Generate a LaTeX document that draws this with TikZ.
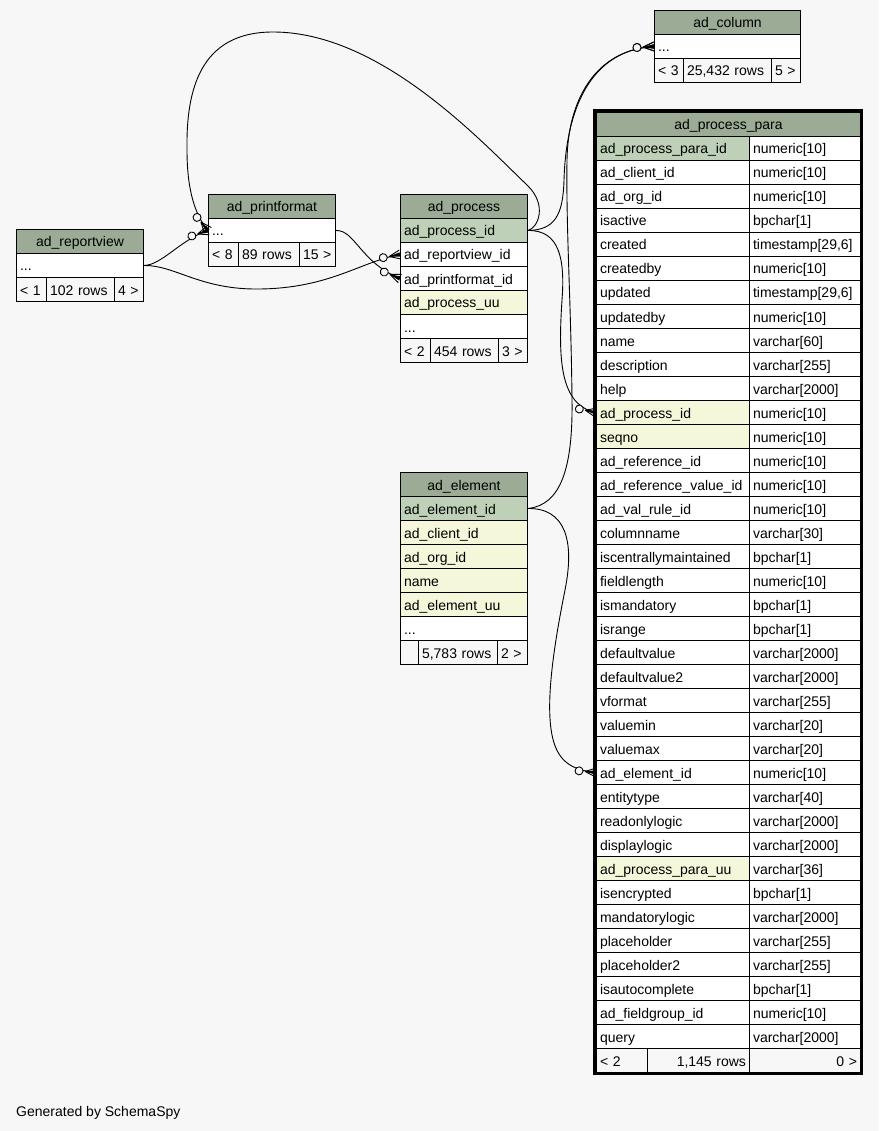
\documentclass[tikz,border=0pt]{standalone}
\usepackage{fontspec}
\setmainfont{Liberation Sans}
\usetikzlibrary{decorations.markings}
\definecolor{bgc}{HTML}{F7F7F7}
\definecolor{hdrc}{HTML}{9BAB96}
\definecolor{pkc}{HTML}{BED1B8}
\definecolor{ixc}{HTML}{F4F7DA}
\newcommand\tabfont{\fontsize{14}{16}\selectfont}
\newcommand\tcell[6]{%
  \pgfmathsetmacro\tcw{#4-7}%
  \node[cell,#5,minimum width=#4pt,text width=\tcw pt] (#1) at (#2,-#3) {\mbox{#6}};}
\newcommand\pprow[4]{%
  \pgfmathsetmacro\ppy{136+24*#1}%
  \tcell{pp#1a}{596}{\ppy}{153}{#4}{#2}%
  \tcell{pp#1b}{749}{\ppy}{111}{}{#3}}
\begin{document}
\begin{tikzpicture}[x=1pt,y=1pt,
  cell/.style={draw=black,line width=1pt,fill=white,rectangle,anchor=north west,
    minimum height=24pt,inner xsep=3.5pt,inner ysep=0pt,text height=12pt,text depth=1pt,
    font=\tabfont,align=left},
  hdr/.style={fill=hdrc,align=center},
  pk/.style={fill=pkc},
  ix/.style={fill=ixc},
  ftr/.style={fill=bgc},
  fk/.style={draw=black,line width=0.9pt,postaction={decorate},
    decoration={markings,mark=at position 0.9999 with {
      \draw[line width=0.9pt,fill=bgc] (-17,0) circle (4);
      \draw[line width=0.9pt] (-11,0) -- (0,4.5) (-11,0) -- (0,0) (-11,0) -- (0,-4.5);
      \fill (-11,0) -- (0,2.2) -- (0,-2.2) -- cycle;}}}
]
\useasboundingbox (0,0) rectangle (879,-1131);
\fill[bgc] (0,0) rectangle (879,-1131);

% ad_column
\tcell{col_h}{654}{10}{146}{hdr}{ad\_column}
\tcell{col_dots}{654}{34}{146}{}{...}
\tcell{col_f1}{654}{58}{29}{ftr}{< 3}
\tcell{col_f2}{683}{58}{88}{ftr}{25,432 rows}
\tcell{col_f3}{771}{58}{29}{ftr}{5 >}

% ad_printformat
\tcell{pf_h}{208}{194}{127}{hdr}{ad\_printformat}
\tcell{pf_dots}{208}{218}{127}{}{...}
\tcell{pf_f1}{208}{242}{30}{ftr}{< 8}
\tcell{pf_f2}{238}{242}{61}{ftr}{89 rows}
\tcell{pf_f3}{299}{242}{36}{ftr}{15 >}

% ad_reportview
\tcell{rv_h}{16}{229}{127}{hdr}{ad\_reportview}
\tcell{rv_dots}{16}{253}{127}{}{...}
\tcell{rv_f1}{16}{277}{30}{ftr}{< 1}
\tcell{rv_f2}{46}{277}{68}{ftr}{102 rows}
\tcell{rv_f3}{114}{277}{29}{ftr}{4 >}

% ad_process
\tcell{proc_h}{400}{194}{127}{hdr}{ad\_process}
\tcell{proc_id}{400}{218}{127}{pk}{ad\_process\_id}
\tcell{proc_rvid}{400}{242}{127}{}{ad\_reportview\_id}
\tcell{proc_pfid}{400}{266}{127}{}{ad\_printformat\_id}
\tcell{proc_uu}{400}{290}{127}{ix}{ad\_process\_uu}
\tcell{proc_dots}{400}{314}{127}{}{...}
\tcell{proc_f1}{400}{338}{30}{ftr}{< 2}
\tcell{proc_f2}{430}{338}{68}{ftr}{454 rows}
\tcell{proc_f3}{498}{338}{29}{ftr}{3 >}

% ad_element
\tcell{el_h}{400}{472}{127}{hdr}{ad\_element}
\tcell{el_id}{400}{496}{127}{pk}{ad\_element\_id}
\tcell{el_client}{400}{520}{127}{ix}{ad\_client\_id}
\tcell{el_org}{400}{544}{127}{ix}{ad\_org\_id}
\tcell{el_name}{400}{568}{127}{ix}{name}
\tcell{el_uu}{400}{592}{127}{ix}{ad\_element\_uu}
\tcell{el_dots}{400}{616}{127}{}{...}
\tcell{el_f1}{400}{640}{18}{ftr}{}
\tcell{el_f2}{418}{640}{79}{ftr}{5,783 rows}
\tcell{el_f3}{497}{640}{30}{ftr}{2 >}

% ad_process_para
\tcell{pp_h}{596}{112}{264}{hdr}{ad\_process\_para}
\pprow{0}{ad\_process\_para\_id}{numeric[10]}{pk}
\pprow{1}{ad\_client\_id}{numeric[10]}{}
\pprow{2}{ad\_org\_id}{numeric[10]}{}
\pprow{3}{isactive}{bpchar[1]}{}
\pprow{4}{created}{timestamp[29,6]}{}
\pprow{5}{createdby}{numeric[10]}{}
\pprow{6}{updated}{timestamp[29,6]}{}
\pprow{7}{updatedby}{numeric[10]}{}
\pprow{8}{name}{varchar[60]}{}
\pprow{9}{description}{varchar[255]}{}
\pprow{10}{help}{varchar[2000]}{}
\pprow{11}{ad\_process\_id}{numeric[10]}{ix}
\pprow{12}{seqno}{numeric[10]}{ix}
\pprow{13}{ad\_reference\_id}{numeric[10]}{}
\pprow{14}{ad\_reference\_value\_id}{numeric[10]}{}
\pprow{15}{ad\_val\_rule\_id}{numeric[10]}{}
\pprow{16}{columnname}{varchar[30]}{}
\pprow{17}{iscentrallymaintained}{bpchar[1]}{}
\pprow{18}{fieldlength}{numeric[10]}{}
\pprow{19}{ismandatory}{bpchar[1]}{}
\pprow{20}{isrange}{bpchar[1]}{}
\pprow{21}{defaultvalue}{varchar[2000]}{}
\pprow{22}{defaultvalue2}{varchar[2000]}{}
\pprow{23}{vformat}{varchar[255]}{}
\pprow{24}{valuemin}{varchar[20]}{}
\pprow{25}{valuemax}{varchar[20]}{}
\pprow{26}{ad\_element\_id}{numeric[10]}{}
\pprow{27}{entitytype}{varchar[40]}{}
\pprow{28}{readonlylogic}{varchar[2000]}{}
\pprow{29}{displaylogic}{varchar[2000]}{}
\pprow{30}{ad\_process\_para\_uu}{varchar[36]}{ix}
\pprow{31}{isencrypted}{bpchar[1]}{}
\pprow{32}{mandatorylogic}{varchar[2000]}{}
\pprow{33}{placeholder}{varchar[255]}{}
\pprow{34}{placeholder2}{varchar[255]}{}
\pprow{35}{isautocomplete}{bpchar[1]}{}
\pprow{36}{ad\_fieldgroup\_id}{numeric[10]}{}
\pprow{37}{query}{varchar[2000]}{}
\tcell{pp_f1}{596}{1048}{51}{ftr}{< 2}
\tcell{pp_f2}{647}{1048}{102}{ftr,align=right}{1,145 rows}
\tcell{pp_f3}{749}{1048}{111}{ftr,align=right}{0 >}
\draw[line width=3pt] (594.5,-110.5) rectangle (861.5,-1073.5);

% connectors
\draw[fk] (proc_id.east) .. controls (538,-228) and (548,-205) .. (527,-185)
  .. controls (480,-140) and (380,-32) .. (273,-32)
  .. controls (200,-32) and (186,-90) .. (187,-150)
  .. controls (187,-190) and (195,-215) .. (pf_dots.west);
\draw[fk] (rv_dots.east) .. controls (162,-265) and (180,-240) .. (pf_dots.west);
\draw[fk] (rv_dots.east) .. controls (175,-265) and (200,-290) .. (260,-289)
  .. controls (330,-288) and (360,-262) .. (proc_rvid.west);
\draw[fk] (pf_dots.east) .. controls (355,-230) and (360,-262) .. (proc_pfid.west);
\draw[fk] (proc_id.east) .. controls (555,-230) and (563,-215) .. (564,-180)
  .. controls (566,-110) and (590,-50) .. (col_dots.west);
\draw[fk] (proc_id.east) .. controls (560,-230) and (565,-260) .. (562,-300)
  .. controls (558,-360) and (560,-405) .. (pp11a.west);
\draw[fk] (el_id.east) .. controls (560,-505) and (573,-470) .. (572,-400)
  .. controls (571,-300) and (566,-230) .. (567,-160)
  .. controls (568,-100) and (595,-50) .. (col_dots.west);
\draw[fk] (el_id.east) .. controls (565,-508) and (575,-540) .. (565,-590)
  .. controls (555,-640) and (545,-700) .. (552,-735)
  .. controls (557,-760) and (570,-770) .. (pp26a.west);

\node[anchor=base west,inner sep=0pt,font=\tabfont] (gen) at (16,-1116) {Generated by SchemaSpy};
\end{tikzpicture}
\end{document}
